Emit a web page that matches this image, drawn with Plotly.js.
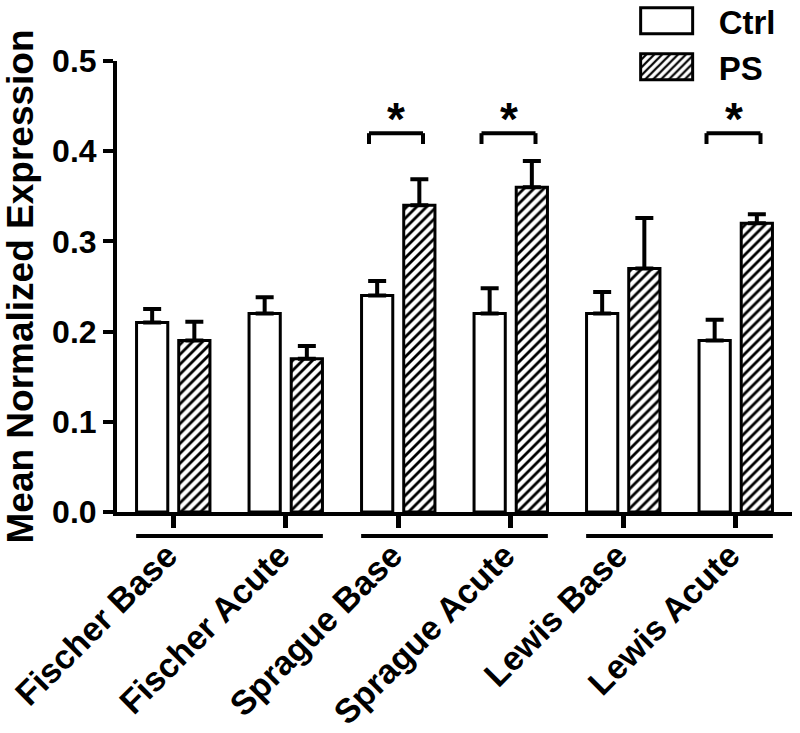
<!DOCTYPE html>
<html>
<head>
<meta charset="utf-8">
<script src="https://cdn.plot.ly/plotly-3.0.1.min.js"></script>
<style>html,body{margin:0;padding:0;background:#fff;}#chart{width:800px;height:733px;}</style>
</head>
<body>
<div id="chart"></div>
<script>
// ---- data ----
var categories = ['Fischer Base', 'Fischer Acute', 'Sprague Base', 'Sprague Acute', 'Lewis Base', 'Lewis Acute'];
var ctrlValues = [0.21, 0.22, 0.24, 0.22, 0.22, 0.19];
var ctrlErrors = [0.015, 0.018, 0.016, 0.028, 0.024, 0.023];
var psValues = [0.19, 0.17, 0.34, 0.36, 0.27, 0.32];
var psErrors = [0.021, 0.014, 0.029, 0.029, 0.056, 0.010];
var seriesNames = ['Ctrl', 'PS'];
var yTickVals = [0, 0.1, 0.2, 0.3, 0.4, 0.5];
var yTickText = ['0.0', '0.1', '0.2', '0.3', '0.4', '0.5'];
var sigIndex = [2, 3, 5];
var sigLabel = ['*', '*', '*'];
var strainPairs = [[0, 1], [2, 3], [4, 5]];

var FONT = 'Liberation Sans, Arial, sans-serif';
var zeros = ctrlValues.map(function () { return 0; });

var traceCtrl = {
  type: 'bar', name: seriesNames[0], x: categories, y: ctrlValues,
  marker: { color: '#ffffff', line: { color: '#000', width: 3 } },
  error_y: { type: 'data', symmetric: false, array: ctrlErrors, arrayminus: zeros, color: '#000', thickness: 4, width: 9 }
};
var tracePS = {
  type: 'bar', name: seriesNames[1], x: categories, y: psValues,
  marker: { color: '#ffffff', line: { color: '#000', width: 3 },
            pattern: { shape: '/', fgcolor: '#000', bgcolor: '#fff', size: 7, solidity: 0.4 } },
  error_y: { type: 'data', symmetric: false, array: psErrors, arrayminus: zeros, color: '#000', thickness: 4, width: 9 }
};

var shapes = [];
var annotations = [];
// strain underlines below x axis
strainPairs.forEach(function (p) {
  var c = (p[0] + p[1]) / 2;
  shapes.push({ type: 'line', xref: 'x', yref: 'paper', x0: c - 0.83, x1: c + 0.83, y0: -0.053, y1: -0.053,
                line: { color: '#000', width: 4 } });
});
// significance brackets
var yTop = 0.42, yLeg = 0.408;
sigIndex.forEach(function (i, k) {
  var xl = i - 0.26, xr = i + 0.22;
  shapes.push({ type: 'line', xref: 'x', yref: 'y', x0: xl, x1: xr, y0: yTop, y1: yTop, line: { color: '#000', width: 4 } });
  shapes.push({ type: 'line', xref: 'x', yref: 'y', x0: xl, x1: xl, y0: yTop, y1: yLeg, line: { color: '#000', width: 4 } });
  shapes.push({ type: 'line', xref: 'x', yref: 'y', x0: xr, x1: xr, y0: yTop, y1: yLeg, line: { color: '#000', width: 4 } });
  annotations.push({ xref: 'x', yref: 'y', x: i - 0.02, y: 0.444, text: sigLabel[k], showarrow: false,
                     yanchor: 'middle', yshift: -7, font: { family: FONT, size: 46, color: '#000', weight: 'bold' } });
});

var layout = {
  width: 800, height: 733,
  margin: { l: 117, r: 8, t: 61, b: 221, autoexpand: false },
  paper_bgcolor: '#fff', plot_bgcolor: '#fff',
  barmode: 'group', bargap: 0.25, bargroupgap: 0.26,
  showlegend: true,
  legend: { x: 0.758, y: 1.151, xanchor: 'left', yanchor: 'top', bgcolor: 'rgba(0,0,0,0)',
            itemwidth: 80, font: { family: FONT, size: 33, color: '#000', weight: 'bold' } },
  font: { family: FONT, color: '#000', weight: 'bold' },
  xaxis: {
    type: 'category', range: [-0.5, 5.5], showgrid: false, zeroline: false,
    showline: true, linecolor: '#000', linewidth: 4,
    ticks: 'outside', ticklen: 12, tickwidth: 5, tickcolor: '#000',
    tickangle: -45, ticklabelstandoff: -6, ticklabelshift: -6,
    tickfont: { family: FONT, size: 34, color: '#000', weight: 'bold' }
  },
  yaxis: {
    range: [0, 0.5], showgrid: false, zeroline: false,
    showline: true, linecolor: '#000', linewidth: 4,
    ticks: 'outside', ticklen: 10, tickwidth: 4, tickcolor: '#000',
    tickvals: yTickVals, ticktext: yTickText,
    tickfont: { family: FONT, size: 32, color: '#000', weight: 'bold' },
    title: { text: 'Mean Normalized Expression', standoff: 12,
             font: { family: FONT, size: 37, color: '#000', weight: 'bold' } }
  },
  shapes: shapes,
  annotations: annotations
};

Plotly.newPlot('chart', [traceCtrl, tracePS], layout, { displayModeBar: false, staticPlot: true }).then(function (gd) {
  // enlarge legend swatches to match reference boxes
  var paths = gd.querySelectorAll('.legend .legendpoints path');
  paths.forEach(function (p) {
    p.setAttribute('d', 'M-33,-13H19V13H-33Z');
    p.style.strokeWidth = '3px';
    p.style.stroke = '#000';
  });
});
</script>
</body>
</html>
